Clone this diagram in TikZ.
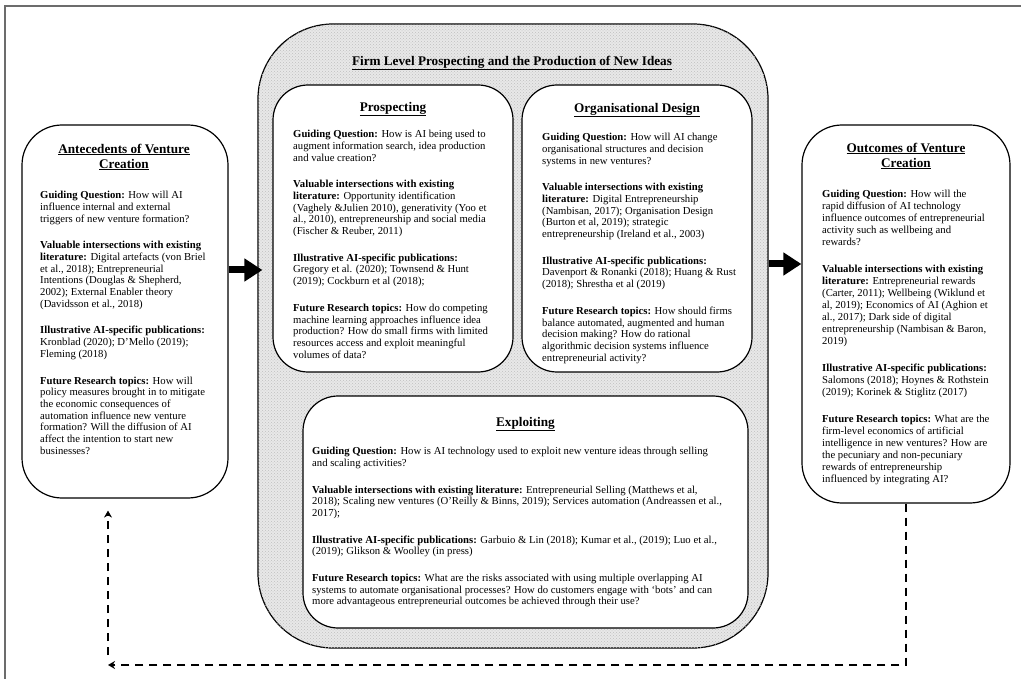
\documentclass[tikz,border=0pt]{standalone}
\usepackage{fontspec}
\setmainfont{Liberation Serif}
\usetikzlibrary{arrows.meta,patterns}
\begin{document}
\begin{tikzpicture}[x=1pt,y=-1pt,
  box/.style={draw=black,line width=1.2pt,fill=white,inner sep=0pt},
  outerbox/.style={draw=black,line width=1.2pt,fill=gray!18,inner sep=0pt,rounded corners=75pt,
     postaction={pattern=crosshatch dots,pattern color=gray!50}},
  ttl/.style={font=\fontsize{13.2pt}{15pt}\selectfont\bfseries,align=center,inner sep=0pt},
  body/.style={font=\fontsize{10.7pt}{11.7pt}\selectfont,align=left,inner sep=0pt,anchor=north west},
  bigarrow/.style={line width=7pt,-{Triangle[length=18pt,width=22pt]}},
  dashline/.style={line width=2.5pt,dash pattern=on 8pt off 6pt,-{Stealth[length=7pt,width=8pt]}}
]
\useasboundingbox (0,0) rectangle (1021,679);
\draw[gray!85!black,line width=2pt] (5,679) -- (5,6) -- (1021,6);

% boxes
\node[box,rounded corners=40pt,minimum width=206pt,minimum height=373pt] (left) at (125,311.5) {};
\node[outerbox,minimum width=510pt,minimum height=624pt] (mid) at (513,336) {};
\node[box,rounded corners=35pt,minimum width=240pt,minimum height=287pt] (pros) at (393,228.5) {};
\node[box,rounded corners=35pt,minimum width=230pt,minimum height=287pt] (org) at (637,228.5) {};
\node[box,rounded corners=35pt,minimum width=445pt,minimum height=232pt] (expl) at (525.5,512) {};
\node[box,rounded corners=40pt,minimum width=208pt,minimum height=378pt] (right) at (906,314) {};

% titles
\node[ttl] (tleft) at (124,157) {\underline{Antecedents of Venture}\\\underline{Creation}};
\node[ttl] (tright) at (906,156) {\underline{Outcomes of Venture}\\\underline{Creation}};
\node[ttl] (tmid) at (512,63) {\underline{Firm Level Prospecting and the Production of New Ideas}};
\node[ttl] (tpros) at (393,109) {\underline{Prospecting}};
\node[ttl] (torg) at (637,110) {\underline{Organisational Design}};
\node[ttl] (texpl) at (525.5,424) {\underline{Exploiting}};

% bodies
\node[body] (bleft) at (40,191) {\textbf{Guiding Question:} How will AI\\
influence internal and external\\
triggers of new venture formation?\\[15pt]
\textbf{Valuable intersections with existing}\\
\textbf{literature:} Digital artefacts (von Briel\\
et al., 2018); Entrepreneurial\\
Intentions (Douglas \& Shepherd,\\
2002); External Enabler theory\\
(Davidsson et al., 2018)\\[15pt]
\textbf{Illustrative AI-specific publications:}\\
Kronblad (2020); D'Mello (2019);\\
Fleming (2018)\\[15pt]
\textbf{Future Research topics:} How will\\
policy measures brought in to mitigate\\
the economic consequences of\\
automation influence new venture\\
formation? Will the diffusion of AI\\
affect the intention to start new\\
businesses?};

\node[body] (bpros) at (293,130) {\textbf{Guiding Question:} How is AI being used to\\
augment information search, idea production\\
and value creation?\\[15pt]
\textbf{Valuable intersections with existing}\\
\textbf{literature:} Opportunity identification\\
(Vaghely \&Julien 2010), generativity (Yoo et\\
al., 2010), entrepreneurship and social media\\
(Fischer \& Reuber, 2011)\\[15pt]
\textbf{Illustrative AI-specific publications:}\\
Gregory et al. (2020); Townsend \& Hunt\\
(2019); Cockburn et al (2018);\\[15pt]
\textbf{Future Research topics:} How do competing\\
machine learning approaches influence idea\\
production? How do small firms with limited\\
resources access and exploit meaningful\\
volumes of data?};

\node[body] (borg) at (542,133) {\textbf{Guiding Question:} How will AI change\\
organisational structures and decision\\
systems in new ventures?\\[15pt]
\textbf{Valuable intersections with existing}\\
\textbf{literature:} Digital Entrepreneurship\\
(Nambisan, 2017); Organisation Design\\
(Burton et al, 2019); strategic\\
entrepreneurship (Ireland et al., 2003)\\[15pt]
\textbf{Illustrative AI-specific publications:}\\
Davenport \& Ronanki (2018); Huang \& Rust\\
(2018); Shrestha et al (2019)\\[15pt]
\textbf{Future Research topics:} How should firms\\
balance automated, augmented and human\\
decision making? How do rational\\
algorithmic decision systems influence\\
entrepreneurial activity?};

\node[body] (bexpl) at (312,447) {\textbf{Guiding Question:} How is AI technology used to exploit new venture ideas through selling\\
and scaling activities?\\[15pt]
\textbf{Valuable intersections with existing literature:} Entrepreneurial Selling (Matthews et al,\\
2018); Scaling new ventures (O'Reilly \& Binns, 2019); Services automation (Andreassen et al.,\\
2017);\\[15pt]
\textbf{Illustrative AI-specific publications:} Garbuio \& Lin (2018); Kumar et al., (2019); Luo et al.,\\
(2019); Glikson \& Woolley (in press)\\[15pt]
\textbf{Future Research topics:} What are the risks associated with using multiple overlapping AI\\
systems to automate organisational processes? How do customers engage with `bots' and can\\
more advantageous entrepreneurial outcomes be achieved through their use?};

\node[body,font=\fontsize{10.7pt}{12pt}\selectfont] (bright) at (822,190) {\textbf{Guiding Question:} How will the\\
rapid diffusion of AI technology\\
influence outcomes of entrepreneurial\\
activity such as wellbeing and\\
rewards?\\[15pt]
\textbf{Valuable intersections with existing}\\
\textbf{literature:} Entrepreneurial rewards\\
(Carter, 2011); Wellbeing (Wiklund et\\
al, 2019); Economics of AI (Aghion et\\
al., 2017); Dark side of digital\\
entrepreneurship (Nambisan \& Baron,\\
2019)\\[15pt]
\textbf{Illustrative AI-specific publications:}\\
Salomons (2018); Hoynes \& Rothstein\\
(2019); Korinek \& Stiglitz (2017)\\[15pt]
\textbf{Future Research topics:} What are the\\
firm-level economics of artificial\\
intelligence in new ventures? How are\\
the pecuniary and non-pecuniary\\
rewards of entrepreneurship\\
influenced by integrating AI?};

% arrows
\draw[bigarrow] ([yshift=41.5pt]left.east) -- ([yshift=41.5pt,xshift=5pt]left.east -| mid.west);
\draw[bigarrow] ([yshift=50pt]right.west -| mid.east) -- ([yshift=50pt]right.west);

% feedback loop
\coordinate (corner) at (108,665);
\draw[dashline] (right.south) -- (right.south |- corner) -- (corner);
\draw[dashline] ([yshift=10pt]corner) -- ([yshift=-12pt]left.south -| corner);
\end{tikzpicture}
\end{document}
